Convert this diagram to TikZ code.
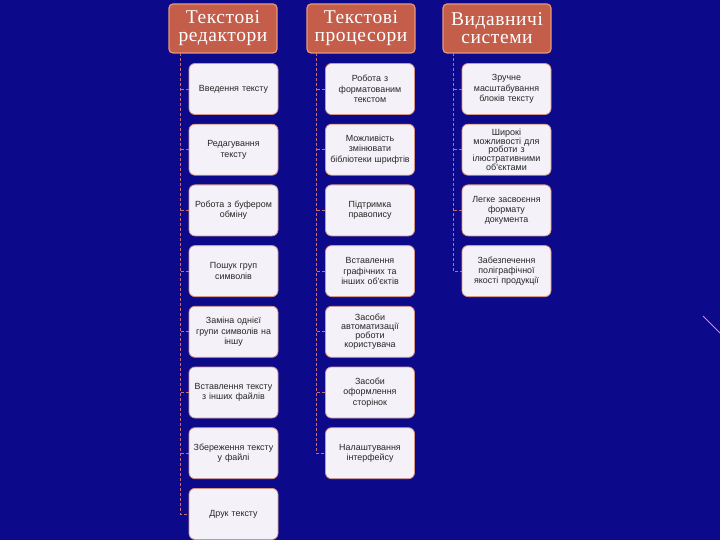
\documentclass[tikz,border=0pt]{standalone}
\usepackage{fontspec}
\setmainfont{Liberation Serif}
\newfontfamily\boxfont{Liberation Sans}
\newfontfamily\hdrfont[LetterSpace=3]{Liberation Serif}
\definecolor{bgblue}{RGB}{12,10,138}
\definecolor{hdrfill}{RGB}{196,94,74}
\definecolor{hdrline}{RGB}{232,150,120}
\definecolor{boxfill}{RGB}{244,242,248}
\definecolor{boxline}{RGB}{214,150,130}
\definecolor{conn}{RGB}{200,110,120}
\definecolor{deco}{RGB}{225,130,225}
\tikzset{
  hdr/.style={draw=hdrline, line width=1.2pt, fill=hdrfill, rounded corners=4pt,
    minimum width=108pt, minimum height=49pt, inner sep=0pt, align=center,
    text=white, font=\hdrfont\fontsize{19.5}{18}\selectfont},
  itembox/.style={draw=boxline, line width=0.8pt, fill=boxfill, rounded corners=6pt,
    minimum width=89pt, minimum height=51pt, inner sep=0pt, align=center,
    text width=89pt, text=black!85, font=\boxfont\fontsize{8.9}{10.4}\selectfont},
  tight/.style={font=\boxfont\fontsize{9}{9}\selectfont},
  tighter/.style={font=\boxfont\fontsize{9}{8.7}\selectfont},
  link/.style={draw=conn, line width=0.8pt, dash pattern=on 3pt off 2pt}
}
\begin{document}
\begin{tikzpicture}[x=1pt,y=-1pt]
\fill[bgblue] (0,0) rectangle (720,540);
\useasboundingbox (0,0) rectangle (720,540);
% decoration line at right
\draw[deco, line width=1pt] (703,316) -- (720,333);
% headers
\node[hdr] (h1) at (223,28.5) {Текстові\\редактори};
\node[hdr] (h2) at (361,28.5) {Текстові\\процесори};
\node[hdr] (h3) at (497,28.5) {Видавничі\\системи};
% trunk coordinates
\coordinate (t1) at (180,53);
\coordinate (t2) at (316,53);
\coordinate (t3) at (453,53);
% column 1
\node[itembox] (a1) at (233.5,89) {Введення тексту};
\node[itembox] (a2) at (233.5,149.7) {Редагування\\тексту};
\node[itembox] (a3) at (233.5,210.4) {Робота з буфером\\обміну};
\node[itembox] (a4) at (233.5,271.1) {Пошук груп\\символів};
\node[itembox] (a5) at (233.5,331.8) {Заміна однієї\\групи символів на\\іншу};
\node[itembox] (a6) at (233.5,392.5) {Вставлення тексту\\з інших файлів};
\node[itembox] (a7) at (233.5,453.2) {Збереження тексту\\у файлі};
\node[itembox] (a8) at (233.5,513.9) {Друк тексту};
% column 2
\node[itembox] (b1) at (370,89) {Робота з\\форматованим\\текстом};
\node[itembox] (b2) at (370,149.7) {Можливість\\змінювати\\бібліотеки шрифтів};
\node[itembox] (b3) at (370,210.4) {Підтримка\\правопису};
\node[itembox] (b4) at (370,271.1) {Вставлення\\графічних та\\інших об'єктів};
\node[itembox, tight] (b5) at (370,331.8) {Засоби\\автоматизації\\роботи\\користувача};
\node[itembox] (b6) at (370,392.5) {Засоби\\оформлення\\сторінок};
\node[itembox] (b7) at (370,453.2) {Налаштування\\інтерфейсу};
% column 3
\node[itembox] (c1) at (506.5,89) {Зручне\\масштабування\\блоків тексту};
\node[itembox, tighter] (c2) at (506.5,149.7) {Широкі\\можливості для\\роботи з\\ілюстративними\\об'єктами};
\node[itembox] (c3) at (506.5,210.4) {Легке засвоєння\\формату\\документа};
\node[itembox] (c4) at (506.5,271.1) {Забезпечення\\поліграфічної\\якості продукції};
% connectors
\draw[link] (t1) |- (a8.west);
\foreach \n in {1,...,7}{\draw[link] (a\n.west) -- (a\n.west -| t1);}
\draw[link] (t2) |- (b7.west);
\foreach \n in {1,...,6}{\draw[link] (b\n.west) -- (b\n.west -| t2);}
\draw[link] (t3) |- (c4.west);
\foreach \n in {1,...,3}{\draw[link] (c\n.west) -- (c\n.west -| t3);}
\end{tikzpicture}
\end{document}
